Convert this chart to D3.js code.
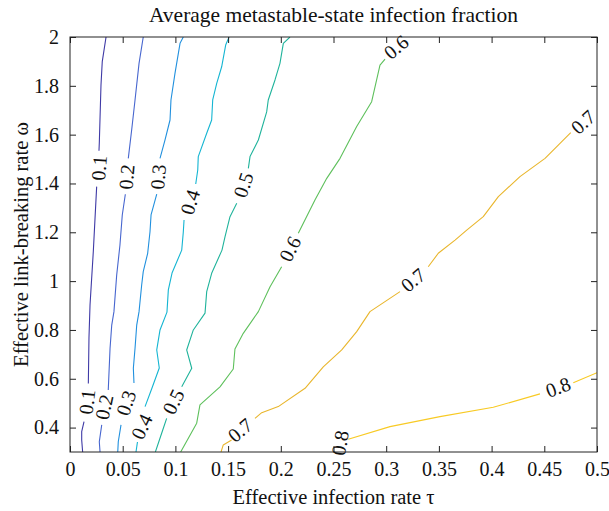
<!DOCTYPE html>
<html><head><meta charset="utf-8">
<script src="https://cdn.jsdelivr.net/npm/d3@7"></script>
<style>body{margin:0;background:#fff}</style>
</head><body><svg id="c" width="609" height="511"></svg>
<script>
const title = "Average metastable-state infection fraction";
const xLabel = "Effective infection rate \u03c4";
const yLabel = "Effective link-breaking rate \u03c9";
const xTicks = [0, 0.05, 0.1, 0.15, 0.2, 0.25, 0.3, 0.35, 0.4, 0.45, 0.5];
const yTicks = [0.4, 0.6, 0.8, 1.0, 1.2, 1.4, 1.6, 1.8, 2.0];
const levels = [0.1, 0.2, 0.3, 0.4, 0.5, 0.6, 0.7, 0.8];

// contour lines: pieces of [tau, omega] (broken where labels sit)
const line01 = [
  [[0.0342,2.0],[0.0306,1.899],[0.0294,1.803],[0.0278,1.566],[0.0275,1.534]],
  [[0.0253,1.387],[0.0221,1.120],[0.0190,0.902],[0.0180,0.767],[0.0174,0.581]],
  [[0.0133,0.424],[0.0111,0.383],[0.0111,0.349],[0.0120,0.300]]
];
const line02 = [
  [[0.0695,2.0],[0.0655,1.892],[0.0617,1.742],[0.0585,1.619],[0.0553,1.503]],
  [[0.0525,1.356],[0.0496,1.271],[0.0474,1.148],[0.0443,1.025],[0.0417,0.875],[0.0396,0.820],[0.0380,0.725],[0.0363,0.554]],
  [[0.0301,0.411],[0.0278,0.342],[0.0285,0.300]]
];
const line03 = [
  [[0.1075,2.0],[0.1044,1.974],[0.0996,1.851],[0.0958,1.742],[0.0949,1.660],[0.0901,1.578],[0.0854,1.503]],
  [[0.0823,1.356],[0.0769,1.271],[0.0759,1.202],[0.0737,1.114],[0.0695,1.039],[0.0680,0.984],[0.0655,0.875],[0.0633,0.820],[0.0617,0.725],[0.0601,0.643],[0.0607,0.583]],
  [[0.0484,0.411],[0.0458,0.342],[0.0453,0.300]]
];
const line04 = [
  [[0.1509,2.0],[0.1477,1.967],[0.1439,1.878],[0.1392,1.810],[0.1354,1.742],[0.1344,1.660],[0.1297,1.606],[0.1217,1.510],[0.1212,1.455],[0.1193,1.398]],
  [[0.1082,1.250],[0.1075,1.201],[0.1060,1.127],[0.0968,1.033],[0.0933,0.964],[0.0920,0.873],[0.0854,0.800],[0.0823,0.718],[0.0847,0.644],[0.0778,0.562],[0.0712,0.486]],
  [[0.0640,0.341],[0.0626,0.300]]
];
const line05 = [
  [[0.2087,2.0],[0.2024,1.974],[0.1992,1.892],[0.1945,1.824],[0.1881,1.742],[0.1866,1.693],[0.1787,1.578],[0.1708,1.510],[0.1692,1.462]],
  [[0.1582,1.319],[0.1518,1.264],[0.1471,1.182],[0.1442,1.127],[0.1344,1.032],[0.1297,0.957],[0.1281,0.869],[0.1170,0.800],[0.1107,0.718],[0.1155,0.643],[0.1060,0.567]],
  [[0.0917,0.438],[0.0880,0.390],[0.0810,0.300]]
];
const line06 = [
  [[0.1050,0.300],[0.1202,0.418],[0.1233,0.493],[0.1423,0.567],[0.1549,0.640],[0.1565,0.722],[0.1644,0.786],[0.1787,0.875],[0.1898,0.977],[0.2008,1.059]],
  [[0.2166,1.196],[0.2324,1.332],[0.2436,1.421],[0.2562,1.503],[0.2720,1.633],[0.2862,1.735],[0.2941,1.885],[0.2989,1.909]]
];
const line07 = [
  [[0.1433,0.300],[0.1454,0.329],[0.1533,0.349]],
  [[0.1755,0.438],[0.1819,0.461],[0.1976,0.486],[0.2230,0.561],[0.2403,0.649],[0.2578,0.718],[0.2720,0.793],[0.2846,0.875],[0.3131,0.957]],
  [[0.3399,1.059],[0.3494,1.114],[0.3653,1.168],[0.3764,1.209],[0.3921,1.264],[0.4064,1.346],[0.4269,1.428],[0.4507,1.503],[0.4751,1.608]]
];
const line08 = [
  [[0.2640,0.352],[0.3036,0.404],[0.3510,0.445],[0.4016,0.483],[0.4459,0.538]],
  [[0.4775,0.584],[0.5000,0.625]]
];
const contourLines = [line01, line02, line03, line04, line05, line06, line07, line08];

// inline labels: [tau, omega, rotation in degrees]
const labels01 = [[0.0275,1.463,-86],[0.0161,0.505,-84]];
const labels02 = [[0.0536,1.427,-85],[0.0323,0.484,-78]];
const labels03 = [[0.0835,1.427,-85],[0.0531,0.501,-72]];
const labels04 = [[0.1139,1.324,-73],[0.0680,0.404,-65]];
const labels05 = [[0.1644,1.394,-72],[0.0980,0.506,-64]];
const labels06 = [[0.2087,1.132,-63],[0.3093,1.959,-40]];
const labels07 = [[0.1613,0.390,-40],[0.3254,1.005,-40],[0.4867,1.652,-42]];
const labels08 = [[0.2562,0.337,-80],[0.4630,0.566,-20]];
const contourLabels = [labels01, labels02, labels03, labels04, labels05, labels06, labels07, labels08];

const colors = ["#3f3aa6","#4766cf","#2190de","#14b5d2","#1fb39b","#5ec05c","#e9b62c","#f8ca24"];

const W = 609, H = 511;
const m = {left: 70, right: 12, top: 37, bottom: 59};
const svg = d3.select("#c");
const x = d3.scaleLinear().domain([0, 0.5]).range([m.left, W - m.right]);
const y = d3.scaleLinear().domain([0.3, 2]).range([H - m.bottom, m.top]);
const font = "'Liberation Serif', 'DejaVu Serif', serif";

const clipId = "plotclip";
svg.append("clipPath").attr("id", clipId).append("rect")
  .attr("x", m.left).attr("y", m.top).attr("width", x(0.5) - m.left).attr("height", y(0.3) - m.top);

const line = d3.line().x(d => x(d[0])).y(d => y(d[1]));
const g = svg.append("g").attr("clip-path", `url(#${clipId})`);
contourLines.forEach((pieces, i) => {
  pieces.forEach(p => {
    g.append("path").attr("d", line(p)).attr("fill", "none")
      .attr("stroke", colors[i]).attr("stroke-width", 1.1).attr("stroke-linejoin", "round");
  });
});

contourLabels.forEach((labs, i) => {
  labs.forEach(l => {
    svg.append("text")
      .attr("transform", `translate(${x(l[0])},${y(l[1])}) rotate(${l[2]})`)
      .attr("text-anchor", "middle").attr("dy", "0.35em")
      .attr("font-family", font).attr("font-size", 20).attr("fill", "#111")
      .text(d3.format(".1f")(levels[i]));
  });
});

// axes (ticks inward, box with ticks on all sides)
const tl = 6;
const fmtX = d => d === 0 ? "0" : String(+d.toFixed(2));
const fmtY = d => String(+d.toFixed(1));
svg.append("g").attr("transform", `translate(0,${H - m.bottom})`)
  .call(d3.axisBottom(x).tickValues(xTicks).tickFormat(fmtX).tickSizeInner(-tl).tickSizeOuter(0).tickPadding(10))
  .call(a => a.select(".domain").remove());
svg.append("g").attr("transform", `translate(0,${m.top})`)
  .call(d3.axisTop(x).tickValues(xTicks).tickFormat("").tickSizeInner(-tl).tickSizeOuter(0))
  .call(a => a.select(".domain").remove());
svg.append("g").attr("transform", `translate(${m.left},0)`)
  .call(d3.axisLeft(y).tickValues(yTicks).tickFormat(fmtY).tickSizeInner(-tl).tickSizeOuter(0).tickPadding(11))
  .call(a => a.select(".domain").remove());
svg.append("g").attr("transform", `translate(${W - m.right},0)`)
  .call(d3.axisRight(y).tickValues(yTicks).tickFormat("").tickSizeInner(-tl).tickSizeOuter(0))
  .call(a => a.select(".domain").remove());
svg.selectAll(".tick line").attr("stroke", "#222");
svg.selectAll(".tick text").attr("font-family", font).attr("font-size", 20).attr("fill", "#111");
svg.append("rect").attr("x", m.left).attr("y", m.top)
  .attr("width", x(0.5) - m.left).attr("height", y(0.3) - m.top)
  .attr("fill", "none").attr("stroke", "#222").attr("stroke-width", 1);

svg.append("text").attr("x", (m.left + W - m.right) / 2).attr("y", 22)
  .attr("text-anchor", "middle").attr("font-family", font).attr("font-size", 21.5).attr("fill", "#111")
  .text(title);
svg.append("text").attr("x", (m.left + W - m.right) / 2).attr("y", 504)
  .attr("text-anchor", "middle").attr("font-family", font).attr("font-size", 20.5).attr("fill", "#111")
  .text(xLabel);
svg.append("text").attr("transform", `translate(21,${(m.top + H - m.bottom) / 2}) rotate(-90)`)
  .attr("text-anchor", "middle").attr("dy", "0.35em").attr("font-family", font).attr("font-size", 20.5).attr("fill", "#111")
  .text(yLabel);
</script></body></html>
